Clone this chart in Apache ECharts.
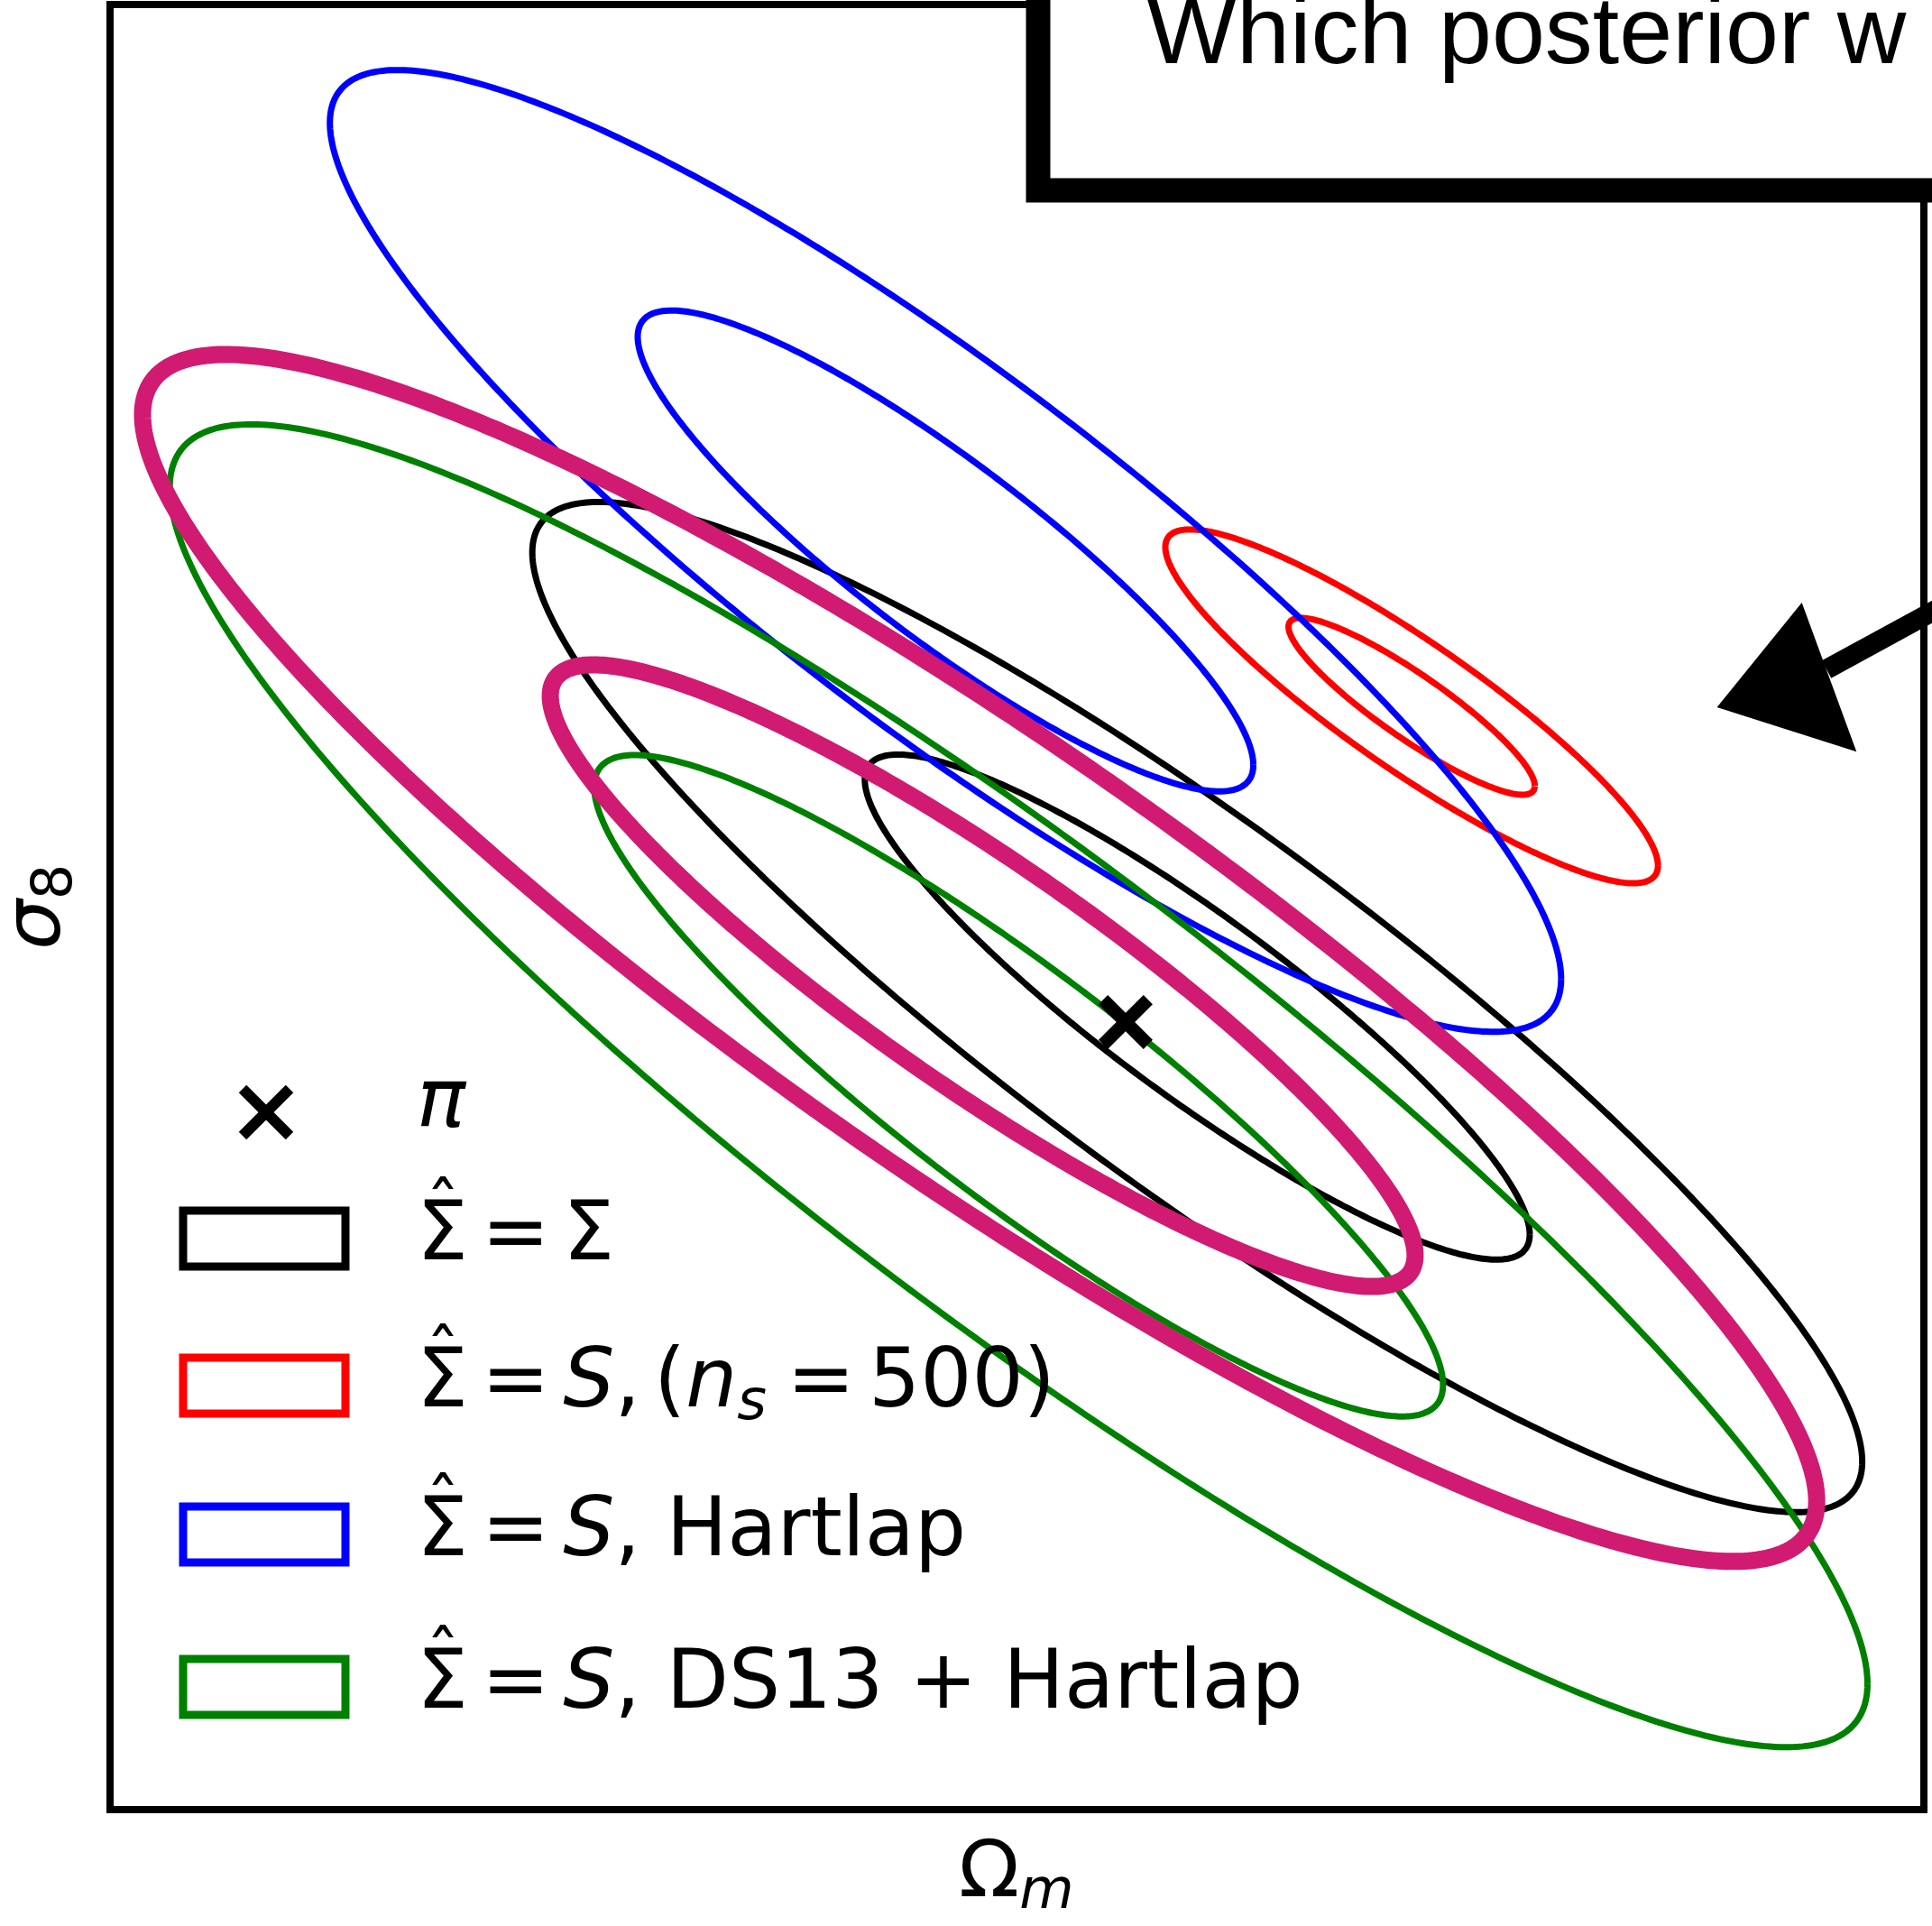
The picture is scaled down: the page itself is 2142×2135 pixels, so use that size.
<!DOCTYPE html>
<html>
<head>
<meta charset="utf-8">
<script src="https://cdn.jsdelivr.net/npm/echarts@6/dist/echarts.min.js"></script>
<style>
html,body{margin:0;padding:0;background:#fff;}
#chart{width:2142px;height:2135px;}
</style>
</head>
<body>
<div id="chart"></div>
<script>
// ---- data (axis units: arbitrary, no ticks shown) ----
const posteriorNames = ['Σ̂ = Σ', 'Σ̂ = S, (n_s = 500)', 'Σ̂ = S, Hartlap', 'Σ̂ = S, DS13 + Hartlap'];
const meanOmegaM = [59.94, 71.76, 46.06, 50.09];
const meanSigma8 = [44.46, 61.12, 69.73, 40.10];
const sdOmegaM = [18.33, 6.79, 16.97, 23.40];
const sdSigma8 = [13.99, 4.90, 13.32, 18.32];
const corrOmegaSigma8 = [-0.90, -0.90, -0.89, -0.904];
const contourLevels = [1, 2];

// hand-drawn (sketched) contours: centre, half-extents, correlation
const sketchCenterOmegaM = [48.11, 47.94];
const sketchCenterSigma8 = [46.20, 47.18];
const sketchHalfOmegaM = [23.84, 46.15];
const sketchHalfSigma8 = [17.22, 33.43];
const sketchCorr = [-0.90, -0.90];

// fiducial parameters (pi)
const truthOmegaM = [55.99];
const truthSigma8 = [43.63];

// ---- styles ----
const contourColors = ['#000000', '#FF0000', '#0000FF', '#008000'];
const sketchColor = '#D11A72';

function contour(cx, cy, sx, sy, rho, k) {
  const pts = [];
  const n = 480;
  const s = Math.sqrt(1 - rho * rho);
  for (let i = 0; i <= n; i++) {
    const t = 2 * Math.PI * i / n;
    pts.push([cx + k * sx * Math.cos(t), cy + k * sy * (rho * Math.cos(t) + s * Math.sin(t))]);
  }
  return pts;
}

const series = [];
posteriorNames.forEach((name, i) => {
  contourLevels.forEach(k => {
    series.push({
      type: 'line', name: name, showSymbol: false, symbol: 'none', z: 3,
      lineStyle: { color: contourColors[i], width: 7, join: 'round', opacity: 1 },
      data: contour(meanOmegaM[i], meanSigma8[i], sdOmegaM[i], sdSigma8[i], corrOmegaSigma8[i], k)
    });
  });
});
sketchCenterOmegaM.forEach((c, j) => {
  series.push({
    type: 'line', name: 'sketch', showSymbol: false, symbol: 'none', z: 5,
    lineStyle: { color: sketchColor, width: 19, join: 'round', cap: 'round', opacity: 1 },
    data: contour(c, sketchCenterSigma8[j], sketchHalfOmegaM[j], sketchHalfSigma8[j], sketchCorr[j], 1)
  });
});
const xPath = 'path://M0,17L17,0L100,83L83,100Z M17,100L0,83L83,0L100,17Z';
series.push({
  type: 'scatter', name: 'π', z: 8, symbol: xPath, symbolSize: 60,
  itemStyle: { color: '#000', opacity: 1 },
  data: truthOmegaM.map((x, i) => [x, truthSigma8[i]])
});

const FONT = 'DejaVu Sans';
function makeRich(f, sf, lh, slh) {
  return {
    r: { fontFamily: FONT, fontSize: f, lineHeight: lh, color: '#000' },
    i: { fontFamily: FONT, fontSize: f, lineHeight: lh, fontStyle: 'italic', color: '#000' },
    sub: { fontFamily: FONT, fontSize: sf, lineHeight: slh, fontStyle: 'italic', verticalAlign: 'bottom', color: '#000' },
    subu: { fontFamily: FONT, fontSize: sf, lineHeight: slh, verticalAlign: 'bottom', color: '#000' },
    hat: { fontFamily: FONT, fontSize: 76, lineHeight: 90, color: '#000' }
  };
}
const richLegend = makeRich(90, 63, 104, 53);
const richAxis = makeRich(88, 62, 102, 52);

const legendLabels = [
  '{r|Σ\u2006=\u2006Σ}',
  '{r|Σ\u2006=\u2006}{i|S}{r|,\u2006(}{i|n}{sub|s}{r|\u2005=\u2006500)}',
  '{r|Σ\u2006=\u2006}{i|S}{r|, Hartlap}',
  '{r|Σ\u2006=\u2006}{i|S}{r|, DS13 + Hartlap}'
];
const legendRowY = [1373, 1536, 1701, 1870];

const graphics = [];
// legend: pi marker
graphics.push({ type: 'line', z: 60, shape: { x1: 269, y1: 1207, x2: 321, y2: 1259 }, style: { stroke: '#000', lineWidth: 12 } });
graphics.push({ type: 'line', z: 60, shape: { x1: 321, y1: 1207, x2: 269, y2: 1259 }, style: { stroke: '#000', lineWidth: 12 } });
graphics.push({ type: 'text', z: 60, x: 462, y: 1226, style: { text: '{i|π}', rich: richLegend, align: 'left', verticalAlign: 'middle' } });
legendRowY.forEach((y, i) => {
  graphics.push({ type: 'rect', z: 60, shape: { x: 203, y: y - 31, width: 180, height: 62 },
    style: { fill: 'transparent', stroke: contourColors[i], lineWidth: 9 } });
  graphics.push({ type: 'text', z: 60, x: 462, y: y, style: { text: legendLabels[i], rich: richLegend, align: 'left', verticalAlign: 'middle' } });
  graphics.push({ type: 'text', z: 60, x: 491, y: y - 28, style: { text: '{hat|ˆ}', rich: richLegend, align: 'center', verticalAlign: 'middle' } });
});
// axis titles
graphics.push({ type: 'text', z: 60, x: 1063, y: 2079, style: { text: '{r|Ω}{sub|m}', rich: richAxis, align: 'left', verticalAlign: 'middle' } });
graphics.push({ type: 'text', z: 60, x: 43, y: 1053, rotation: Math.PI / 2, style: { text: '{i|σ}{subu|8}', rich: richAxis, align: 'left', verticalAlign: 'middle' } });
// annotation box
graphics.push({ type: 'rect', z: 100, shape: { x: 1151, y: -100, width: 1200, height: 311 },
  style: { fill: '#fff', stroke: '#000', lineWidth: 27 } });
graphics.push({ type: 'text', z: 101, x: 1271, y: 41, style: { text: 'Which posterior w', fontFamily: 'Liberation Sans', fontSize: 106, fill: '#000', align: 'left', verticalAlign: 'middle' } });
// arrow
graphics.push({ type: 'polyline', z: 100, shape: { points: [[2025, 742], [2150, 674]] }, style: { stroke: '#000', lineWidth: 22, fill: null } });
graphics.push({ type: 'polygon', z: 100, shape: { points: [[1907, 783], [1997, 672], [2055, 830]] }, style: { fill: '#000', stroke: '#000', lineWidth: 4 } });

const chart = echarts.init(document.getElementById('chart'), null, { renderer: 'canvas' });
chart.setOption({
  animation: false,
  backgroundColor: '#fff',
  grid: { left: 122, right: 9, top: 5, bottom: 129, show: true, borderColor: '#000', borderWidth: 8, backgroundColor: 'transparent' },
  xAxis: { type: 'value', min: 0, max: 100, show: false },
  yAxis: { type: 'value', min: 0, max: 100, show: false },
  series: series,
  graphic: graphics
});
</script>
</body>
</html>
